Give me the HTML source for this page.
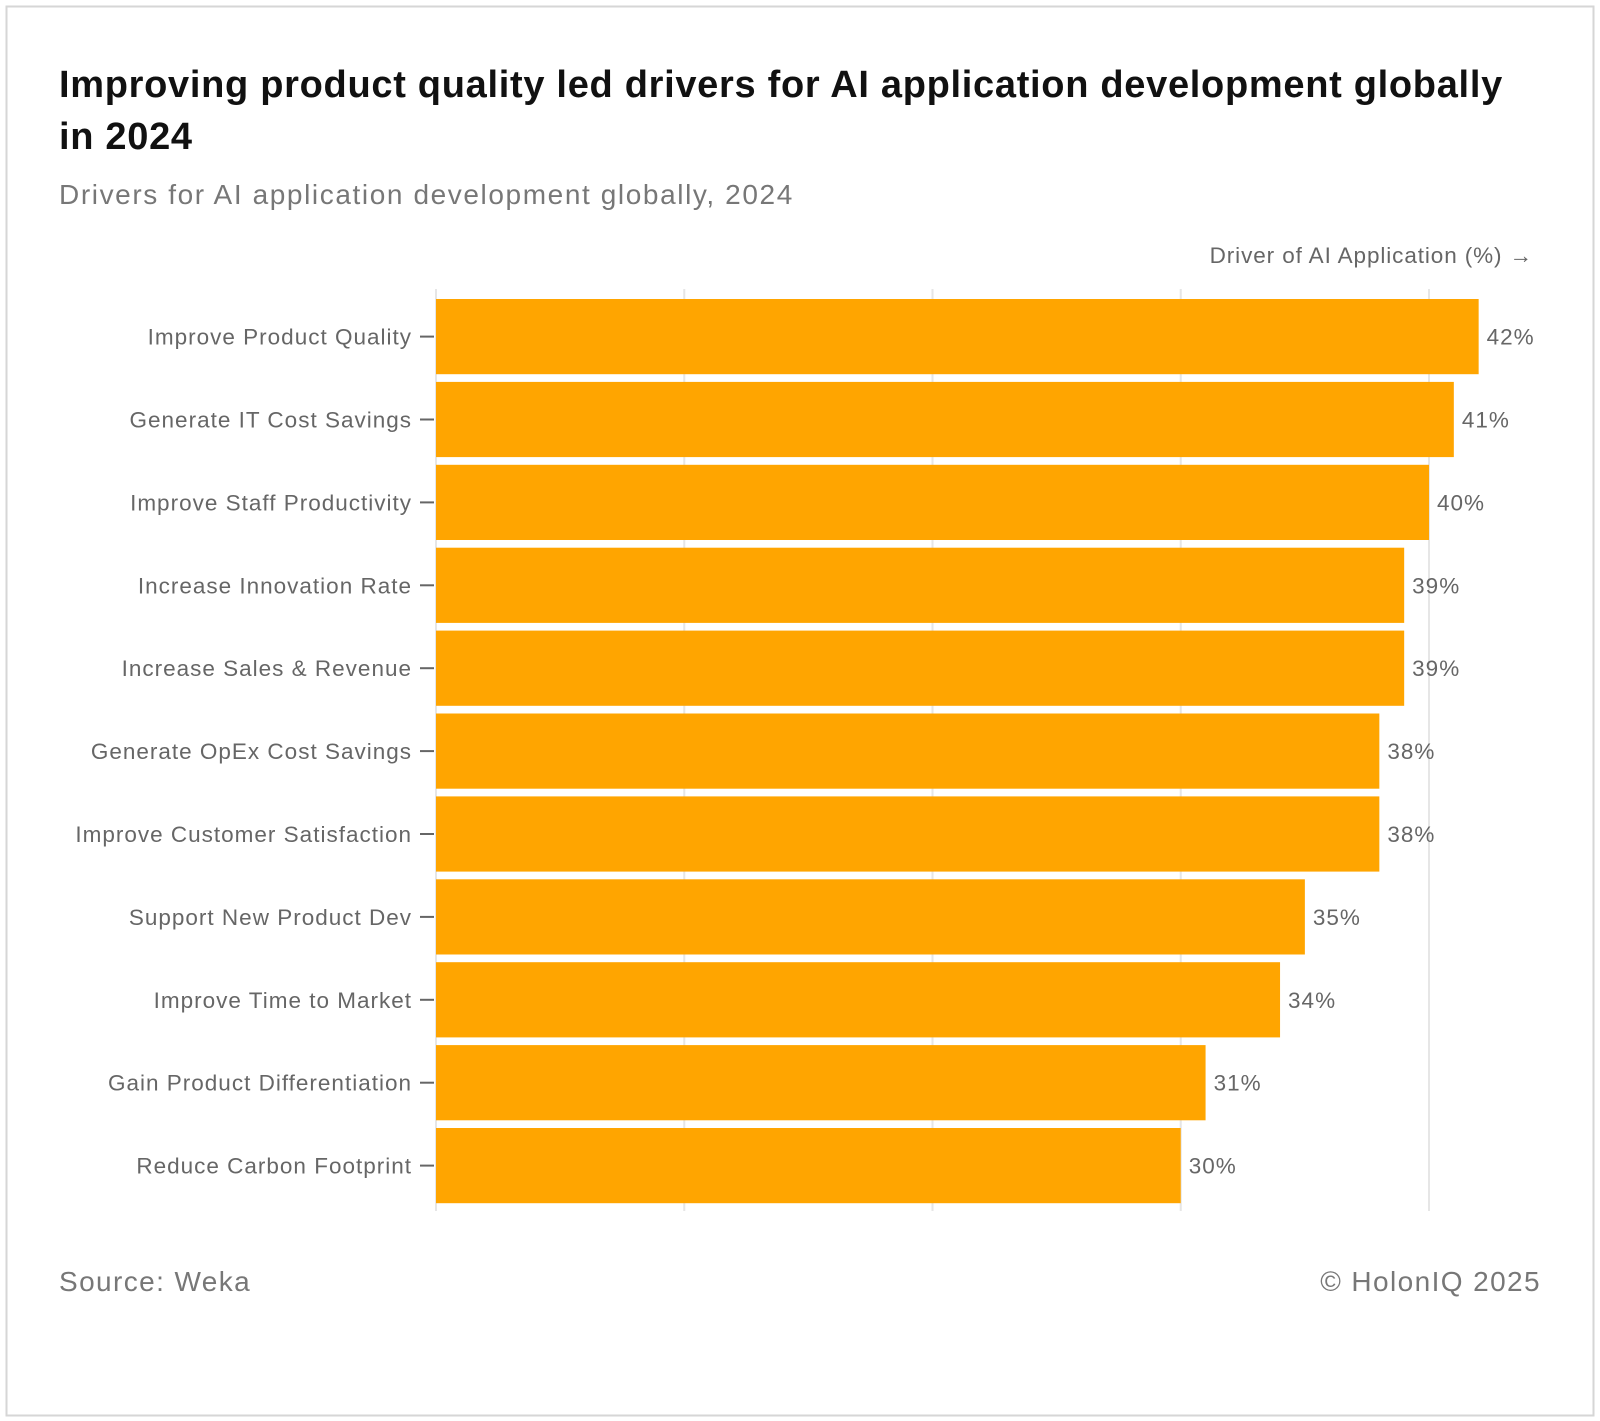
<!DOCTYPE html>
<html><head><meta charset="utf-8"><style>
html,body{margin:0;padding:0;background:#fff;}
svg{display:block;font-family:"Liberation Sans",Arial,sans-serif;}
</style></head><body>
<svg id="chart" width="1600" height="1421" viewBox="0 0 1600 1421">
<rect x="6.5" y="6.5" width="1587" height="1409" fill="#fff" stroke="#d6d6d6" stroke-width="2"/>
<text x="59" y="97" font-size="38" font-weight="bold" fill="#111" letter-spacing="0.7">Improving product quality led drivers for AI application development globally</text>
<text x="59" y="149" font-size="38" font-weight="bold" fill="#111" letter-spacing="0.7">in 2024</text>
<text x="59" y="204" font-size="28" fill="#777" letter-spacing="1.6">Drivers for AI application development globally, 2024</text>
<text x="1533" y="263" font-size="22.5" fill="#666" text-anchor="end" letter-spacing="0.9">Driver of AI Application (%) →</text>
<g id="grid"></g>
<g id="bars"></g>
<text x="59" y="1291" font-size="28" fill="#777" letter-spacing="1.4">Source: Weka</text>
<text x="1541" y="1291" font-size="28" fill="#777" text-anchor="end" letter-spacing="1.4">© HolonIQ 2025</text>
</svg>
<script>
const categories = ["Improve Product Quality","Generate IT Cost Savings","Improve Staff Productivity","Increase Innovation Rate","Increase Sales & Revenue","Generate OpEx Cost Savings","Improve Customer Satisfaction","Support New Product Dev","Improve Time to Market","Gain Product Differentiation","Reduce Carbon Footprint"];
const values = [42,41,40,39,39,38,38,35,34,31,30];
const gridTicks = [0,10,20,30,40];

const NS = "http://www.w3.org/2000/svg";
const x0 = 436, pxPer = (1429 - 436) / 40;
const top0 = 299, pitch = 82.9, bh = 75.2;
const xs = v => x0 + v * pxPer;
const ys = i => top0 + i * pitch;
function mk(tag, attrs){const e=document.createElementNS(NS,tag);for(const k in attrs)e.setAttribute(k,attrs[k]);return e;}
const grid = document.getElementById('grid');
gridTicks.forEach(t=>{
  const l = mk('line',{x1:xs(t),x2:xs(t),y1:289,y2:1211,stroke:'#e6e6e6','stroke-width':2});
  
  
  grid.appendChild(l);
});
const bars = document.getElementById('bars');
categories.forEach((c,i)=>{
  const y = ys(i), cy = y + bh/2;
  const r = mk('rect',{x:x0,y:y,width:xs(values[i])-x0,height:bh,fill:'#ffa500'});
  
  
  bars.appendChild(r);
  const tk = mk('line',{x1:420,x2:434,y1:cy,y2:cy,stroke:'#666','stroke-width':2});
  
  
  bars.appendChild(tk);
  const lb = mk('text',{x:412,y:cy+8,'font-size':22.5,fill:'#666','text-anchor':'end','letter-spacing':1});
  lb.textContent = c;
  
  
  bars.appendChild(lb);
  const vl = mk('text',{x:xs(values[i])+8,y:cy+8,'font-size':22.5,fill:'#666','letter-spacing':1});
  vl.textContent = values[i] + '%';
  
  
  bars.appendChild(vl);
});
</script>
</body></html>
